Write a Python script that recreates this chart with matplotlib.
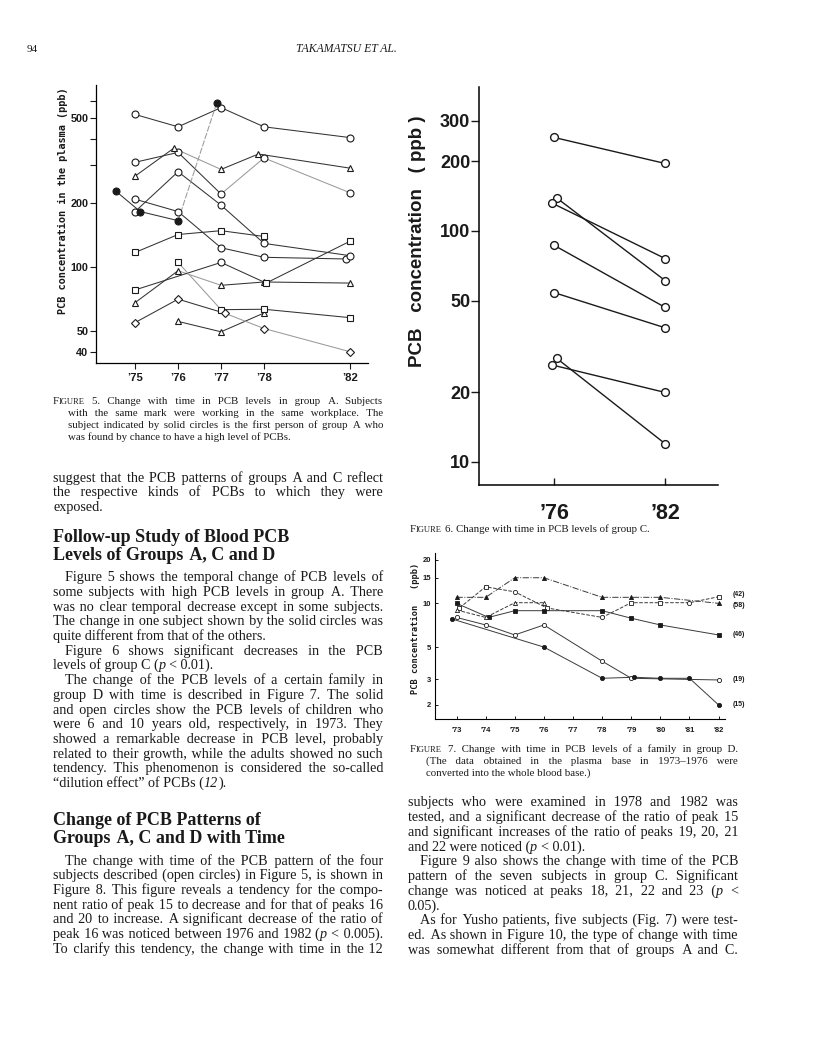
import matplotlib
matplotlib.use('Agg')
import numpy as np
import matplotlib.pyplot as plt

# ---- Figure 5: group A, PCB in plasma (ppb) ----
yrA = [75, 76, 77, 78, 82]
A_o1 = [520, 455, 560, 455, 405]
A_o2 = [310, 345, 220, 325, 223]
A_o3_yr = [75, 76, 77, 78, 81.8]
A_o3 = [208, 182, 123, 111, 109]
A_o4 = [182, 280, 195, 129, 113]
A_solid_yr = [74.55, 75.12, 76, 76.9]
A_solid = [227, 182, 165, 590]
A_t1_yr = [75, 75.9, 77, 77.87, 82]
A_t1 = [267, 361, 287, 339, 291]
A_t2 = [68, 96, 82, 85, 84]
A_t3_yr = [76, 77, 78]
A_t3 = [55.5, 49.6, 60.8]
A_s1_yr = [75, 76, 77, 78]
A_s1 = [117, 142, 148, 139]
A_s2_yr = [75, 77, 78.1, 82]
A_s2 = [78, 105, 84, 132]
A_s3_yr = [76, 77, 78, 82]
A_s3 = [105, 63, 63.3, 57.8]
A_d_yr = [75, 76, 77.1, 78, 82]
A_d = [54.8, 70.6, 60.5, 51.4, 40]
A_ticks = [75, 76, 77, 78, 82]
A_ylab = [40, 50, 100, 200, 500]

# ---- Figure 6: group C, 1976 vs 1982 ----
C_x76 = [76, 76.14, 75.89, 76, 76, 76.14, 75.89]
C_1976 = [254, 139, 132, 86.7, 54.1, 28.1, 26.3]
C_1982 = [196, 61, 76, 46.7, 38.1, 12.0, 20.0]
C_ylab = [10, 20, 50, 100, 200, 300]

# ---- Figure 7: family in group D ----
D58_yr = [73, 74, 75, 76, 78, 79, 80, 82]
D58 = [11, 11, 15, 15, 11, 11, 11, 10]
D42_yr = [73.1, 74, 75, 76.1, 78, 79, 80, 81, 82]
D42 = [9.3, 13, 12, 9.3, 8, 10.1, 10.1, 10.1, 11.1]
D46_yr = [73, 74.1, 75, 76, 78, 79, 80, 82]
D46 = [10, 8, 8.9, 8.9, 8.9, 7.9, 7.1, 6.06]
Dx_yr = [73, 74, 75, 76]
Dx = [9, 8, 10.1, 10.1]
D19_yr = [73, 74, 75, 76, 78, 79, 82]
D19 = [8.0, 7.1, 6.06, 7.1, 4.0, 3.05, 2.97]
D15_yr = [72.85, 76, 78, 79.1, 80, 81, 82]
D15 = [7.8, 5.0, 3.05, 3.1, 3.05, 3.05, 2.0]
D_ages = ['(42)', '(58)', '(46)', '(19)', '(15)']
D_years = list(range(73, 83))
D_ylab = [2, 3, 5, 10, 15, 20]

W, H = 816, 1055
fig = plt.figure(figsize=(W / 100, H / 100), dpi=100)
rend = fig.canvas.get_renderer()

SANS = ['Liberation Sans', 'DejaVu Sans']
MONO = ['DejaVu Sans Mono']
SERIF = ['Liberation Serif', 'DejaVu Serif']
INK = '#1a1a1a'


def fx(x):
    return x / W


def fy(y):
    return 1 - y / H


def axes_px(x0, y0, x1, y1):
    ax = fig.add_axes([x0 / W, 1 - y1 / H, (x1 - x0) / W, (y1 - y0) / H])
    ax.spines[['top', 'right']].set_visible(False)
    ax.patch.set_alpha(0)
    return ax


def bold_ticks(ax):
    for lab in ax.get_xticklabels() + ax.get_yticklabels():
        lab.set_family(SANS)
        lab.set_weight('bold')


# ---------------- Figure 5 ----------------
def fwd(y):
    y = np.asarray(y, float)
    return np.where(y <= 78, y - 75, 3 + (y - 78) / 2)


def inv(p):
    p = np.asarray(p, float)
    return np.where(p <= 3, p + 75, 78 + 2 * (p - 3))


ax5 = axes_px(96, 85, 368, 363)
ax5.set_xscale('function', functions=(fwd, inv))
ax5.set_yscale('log')
ax5.set_xlim(74.09, 82.84)
ax5.set_ylim(35.4, 715)

series5 = [
    (yrA, A_o1, 'o', 'w', []),
    (yrA, A_o2, 'o', 'w', [2, 3]),
    (A_o3_yr, A_o3, 'o', 'w', []),
    (yrA, A_o4, 'o', 'w', []),
    (A_solid_yr, A_solid, 'o', INK, [2]),
    (A_t1_yr, A_t1, '^', 'w', [1]),
    (yrA, A_t2, '^', 'w', [1]),
    (A_t3_yr, A_t3, '^', 'w', []),
    (A_s1_yr, A_s1, 's', 'w', []),
    (A_s2_yr, A_s2, 's', 'w', []),
    (A_s3_yr, A_s3, 's', 'w', [0]),
    (A_d_yr, A_d, 'D', 'w', [2, 3]),
]
msz = {'o': 5, '^': 4.6, 's': 4.0, 'D': 4.0}
for xs, ys, mk, fc, light in series5:
    for i in range(len(xs) - 1):
        lt = i in light
        ax5.plot(xs[i:i + 2], ys[i:i + 2], color='#9a9a9a' if lt else '#333333',
                 lw=0.75, ls=(0, (6, 1.5)) if (lt and fc == INK) else '-', zorder=2)
    marks = [mk] * len(xs)
    if ys is A_s2:
        marks[1] = 'o'
    for x, y, m in zip(xs, ys, marks):
        ax5.plot([x], [y], m, ms=msz[m], mfc=fc, mec=INK, mew=0.8, zorder=3)

ax5.set_xticks(A_ticks, ["\u2019%d" % y for y in A_ticks])
ax5.set_yticks(A_ylab, [str(v) for v in A_ylab])
ax5.set_yticks([300, 400, 600], minor=True)
ax5.yaxis.set_minor_formatter(matplotlib.ticker.NullFormatter())
ax5.tick_params(axis='y', which='both', direction='out', length=4, width=0.8, pad=1.5,
                labelsize=7.8, colors=INK)
ax5.tick_params(axis='x', direction='out', length=4, width=0.8, pad=3, labelsize=8.2,
                colors=INK)
bold_ticks(ax5)
for s in ax5.spines.values():
    s.set_linewidth(0.9)
fig.text(fx(63), fy(201), 'PCB concentration in the plasma (ppb)', rotation=90,
         family=MONO, weight='bold', fontsize=7.4, ha='center', va='center', color=INK)

# ---------------- Figure 6 ----------------
ax6 = axes_px(479, 87, 718, 485)
ax6.set_yscale('log')
ax6.set_xlim(71.94, 84.86)
ax6.set_ylim(7.95, 420)
for x0, a, b in zip(C_x76, C_1976, C_1982):
    ax6.plot([x0, 82], [a, b], '-', color=INK, lw=1.0, zorder=2)
    ax6.plot([x0, 82], [a, b], 'o', ms=5.6, mfc='w', mec=INK, mew=1.0, zorder=3)
ax6.set_xticks([76, 82], ['\u201976', '\u201982'])
ax6.set_yticks(C_ylab, [str(v) for v in C_ylab])
ax6.set_yticks([], minor=True)
ax6.tick_params(axis='y', direction='out', length=5.5, width=1, pad=0.8, labelsize=13,
                colors=INK)
ax6.tick_params(axis='x', direction='in', length=5, width=1, pad=13, labelsize=15.5,
                colors=INK)
bold_ticks(ax6)
for s in ax6.spines.values():
    s.set_linewidth(1.1)
fig.text(fx(418), fy(241), 'PCB   concentration   ( ppb )', rotation=90, family=SANS,
         weight='bold', fontsize=13.5, ha='center', va='center', color=INK)

# ---------------- Figure 7 ----------------
ax7 = axes_px(435, 553, 725, 719)
ax7.set_yscale('log')
ax7.set_xlim(72.26, 82.22)
ax7.set_ylim(1.6, 22.2)
series7 = [
    (D58_yr, D58, ['^'] * 8, INK, '-.'),
    (D42_yr, D42, ['s', 's', 'o', 's', 'o', 's', 's', 'o', 's'], 'w', '--'),
    (D46_yr, D46, ['s'] * 8, INK, '-'),
    (Dx_yr, Dx, ['^'] * 4, 'w', '--'),
    (D19_yr, D19, ['o'] * 7, 'w', '-'),
    (D15_yr, D15, ['o'] * 7, INK, '-'),
]
for xs, ys, marks, fc, ls in series7:
    ax7.plot(xs, ys, color='#3a3a3a', lw=0.7, ls=ls, zorder=2)
    for x, y, m in zip(xs, ys, marks):
        ax7.plot([x], [y], m, ms=3.0, mfc=fc, mec=INK, mew=0.6, zorder=3)
ends = [D42[-1], D58[-1], D46[-1], D19[-1], D15[-1]]
nudge = [1.6, -1.6, 0, 0, 0]
for lab, y, dy in zip(D_ages, ends, nudge):
    ax7.annotate(lab, (82, y), xytext=(10, dy), textcoords='offset points',
                 fontsize=5.0, family=SANS, weight='bold', va='center', ha='left',
                 color=INK)
ax7.set_xticks(D_years, ["'%d" % y for y in D_years])
ax7.set_yticks(D_ylab, [str(v) for v in D_ylab])
ax7.set_yticks([], minor=True)
ax7.tick_params(axis='both', direction='in', length=2.5, width=0.7, labelsize=5.5,
                colors=INK)
ax7.tick_params(axis='x', pad=5.5)
ax7.tick_params(axis='y', pad=3)
bold_ticks(ax7)
for s in ax7.spines.values():
    s.set_linewidth(0.8)
fig.text(fx(415), fy(628), 'PCB concentration   (ppb)', rotation=90, family=MONO,
         weight='bold', fontsize=6.2, ha='center', va='center', color=INK)


# ---------------- page text ----------------
HAIR = '\u200a'
_cache = {}


def ink_w(txt, size, ital, weight):
    key = (txt, round(size, 3), ital, weight)
    if key not in _cache:
        t = fig.text(0, 0, txt, fontsize=size, family=SERIF, weight=weight,
                     style='italic' if ital else 'normal')
        _cache[key] = t.get_window_extent(rend).width
        t.remove()
    return _cache[key]


def gap_w(ch, size, ital, weight):
    return ink_w('n' + ch + 'n', size, ital, weight) - ink_w('nn', size, ital, weight)


def pieces(word, size):
    if word == 'FIGURE':
        return [('F', False, size), ('IGURE', False, size * 0.78)]
    parts = word.split('*')
    return [(p, i % 2 == 1, size) for i, p in enumerate(parts) if p]


def put_line(line, x0, y, size, x1=None, weight='normal'):
    words = [pieces(w, size) for w in line.split()]
    gaps = len(words) - 1
    k = 1.0
    wd = [[ink_w(t, sz, it, weight) for t, it, sz in w] for w in words]
    sp = gap_w(' ', size, False, weight)
    natural = sum(map(sum, wd)) + gaps * sp
    if x1 is not None and natural > x1 - x0:
        k = (x1 - x0) / natural
        wd = [[ink_w(t, sz * k, it, weight) for t, it, sz in w] for w in words]
        sp = gap_w(' ', size * k, False, weight)
    space = sp
    if x1 is not None and gaps > 0:
        space = (x1 - x0 - sum(map(sum, wd))) / gaps
    # target x of every piece
    pos = []
    x = x0
    for wi, w in enumerate(words):
        for pi, (t, it, sz) in enumerate(w):
            pos.append((pi, t, it, sz * k, x, wd[wi][pi]))
            x += wd[wi][pi]
        x += space
    # merge same-style pieces into runs; word gaps inside a run are padded
    # with hair spaces so the run lands on the justified positions
    runs = []
    for pi, t, it, sz, xp, w in pos:
        key = (it, sz)
        if runs and runs[-1][0] == key:
            r = runs[-1]
            if pi == 0:
                h = max(gap_w(HAIR, sz, it, weight), 0.3)
                end0 = r[2] + ink_w(r[1] + ' ' + t, sz, it, weight)
                n = max(0, int(round((xp + w - end0) / h)))
                r[1] += ' ' + HAIR * n + t
            else:
                r[1] += t
        else:
            runs.append([key, t, xp])
    base = round(y + size * 100 / 72 * 0.33)
    for (it, sz), txt, xp in runs:
        fig.text(fx(xp), fy(base), txt, fontsize=sz, family=SERIF, weight=weight,
                 style='italic' if it else 'normal', va='baseline', color=INK)


def block(lines, x0, x1, y0, step, size, indent=(), ragged=(), ind=12):
    for i, ln in enumerate(lines):
        xs = x0 + (ind if i in indent else 0)
        put_line(ln, xs, y0 + i * step, size, None if i in ragged else x1)


BODY = 10.2
CAP = 7.8

fig.text(fx(27), fy(52), '94', fontsize=8, family=SERIF, color=INK)
fig.text(fx(346), fy(52), 'TAKAMATSU ET AL.', fontsize=8.5, family=SERIF, style='italic',
         ha='center', color=INK)

cap5 = ["FIGURE 5. Change with time in PCB levels in group A. Subjects",
        "with the same mark were working in the same workplace. The",
        "subject indicated by solid circles is the first person of group A who",
        "was found by chance to have a high level of PCBs."]
put_line(cap5[0], 53, 400, CAP, 383)
block(cap5[1:], 68, 383, 412, 12, CAP, ragged=(2,))

top_left = ["suggest that the PCB patterns of groups A and C reflect",
            "the respective kinds of PCBs to which they were",
            "exposed."]
block(top_left, 53, 383, 477.5, 14.2, BODY, ragged=(2,))

head1 = ["Follow-up Study of Blood PCB", "Levels of Groups A, C and D"]
for i, ln in enumerate(head1):
    put_line(ln, 53, 536 + i * 18, 13, weight='bold')

para1 = ["Figure 5 shows the temporal change of PCB levels of",
         "some subjects with high PCB levels in group A. There",
         "was no clear temporal decrease except in some subjects.",
         "The change in one subject shown by the solid circles was",
         "quite different from that of the others.",
         "Figure 6 shows significant decreases in the PCB",
         "levels of group C (*p* < 0.01).",
         "The change of the PCB levels of a certain family in",
         "group D with time is described in Figure 7. The solid",
         "and open circles show the PCB levels of children who",
         "were 6 and 10 years old, respectively, in 1973. They",
         "showed a remarkable decrease in PCB level, probably",
         "related to their growth, while the adults showed no such",
         "tendency. This phenomenon is considered the so-called",
         "\u201cdilution effect\u201d of PCBs (*12*)."]
block(para1, 53, 383, 576.6, 14.7, BODY, indent=(0, 5, 7), ragged=(4, 6, 14))

head2 = ["Change of PCB Patterns of", "Groups A, C and D with Time"]
for i, ln in enumerate(head2):
    put_line(ln, 53, 819 + i * 18, 13, weight='bold')

para2 = ["The change with time of the PCB pattern of the four",
         "subjects described (open circles) in Figure 5, is shown in",
         "Figure 8. This figure reveals a tendency for the compo-",
         "nent ratio of peak 15 to decrease and for that of peaks 16",
         "and 20 to increase. A significant decrease of the ratio of",
         "peak 16 was noticed between 1976 and 1982 (*p* < 0.005).",
         "To clarify this tendency, the change with time in the 12"]
block(para2, 53, 383, 860, 14.7, BODY, indent=(0,))

put_line("FIGURE 6. Change with time in PCB levels of group C.", 410, 528, CAP)

cap7 = ["FIGURE 7. Change with time in PCB levels of a family in group D.",
        "(The data obtained in the plasma base in 1973\u20131976 were",
        "converted into the whole blood base.)"]
put_line(cap7[0], 410, 748, CAP, 738)
block(cap7[1:], 426, 738, 760, 12, CAP, ragged=(1,))

para3 = ["subjects who were examined in 1978 and 1982 was",
         "tested, and a significant decrease of the ratio of peak 15",
         "and significant increases of the ratio of peaks 19, 20, 21",
         "and 22 were noticed (*p* < 0.01).",
         "Figure 9 also shows the change with time of the PCB",
         "pattern of the seven subjects in group C. Significant",
         "change was noticed at peaks 18, 21, 22 and 23 (*p* <",
         "0.05).",
         "As for Yusho patients, five subjects (Fig. 7) were test-",
         "ed. As shown in Figure 10, the type of change with time",
         "was somewhat different from that of groups A and C."]
block(para3, 408, 738, 801.7, 14.76, BODY, indent=(4, 8), ragged=(3, 7))

fig.savefig('out.png', dpi=100)
